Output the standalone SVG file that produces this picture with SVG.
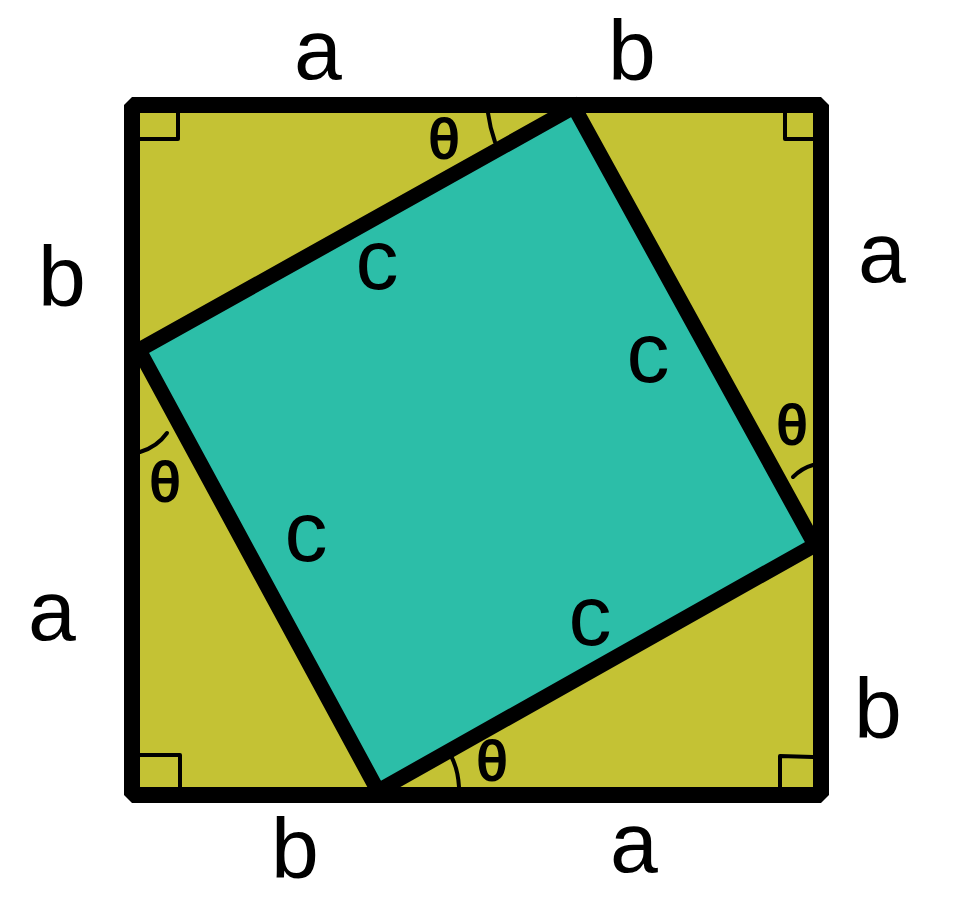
<svg xmlns="http://www.w3.org/2000/svg" width="954" height="900" viewBox="0 0 954 900">
  <style>
    .lbl { font-family: "Liberation Sans", Arial, sans-serif; font-size: 86px; fill: #000; text-anchor: middle; }
    .th { font-family: "Liberation Sans", Arial, sans-serif; font-size: 56px; fill: #000; stroke: #000; stroke-width: 2; text-anchor: middle; }
    .mark { fill: none; stroke: #000; stroke-width: 4; stroke-linecap: round; stroke-linejoin: round; }
  </style>
  <rect x="0" y="0" width="954" height="900" fill="#ffffff"/>
  <g id="outer-square">
    <rect x="132" y="105" width="689" height="690" fill="#c4c234" stroke="#000" stroke-width="16" stroke-linejoin="bevel"/>
  </g>
  <g id="inner-square">
    <polygon points="574,107 815,545 378,791 139,350" fill="#2cbea8" stroke="#000" stroke-width="15" stroke-linejoin="miter"/>
  </g>
  <g id="right-angle-marks">
    <path class="mark" d="M140 139 L178 139 L178 113"/>
    <path class="mark" d="M785 113 L785 139 L813 139"/>
    <path class="mark" d="M140 755 L180 755 L180 787"/>
    <path class="mark" d="M780 787 L780 756 L813 757"/>
  </g>
  <g id="angle-arcs">
    <path class="mark" d="M488 113 Q490 128 495 142"/>
    <path class="mark" d="M140 452 Q157 447 167 433"/>
    <path class="mark" d="M793 477 Q802 468 813 465"/>
    <path class="mark" d="M452 758 Q458 770 459 787"/>
  </g>
  <g id="side-labels">
    <text class="lbl" x="318" y="79">a</text>
    <text class="lbl" x="632" y="80">b</text>
    <text class="lbl" x="62" y="306">b</text>
    <text class="lbl" x="882" y="282">a</text>
    <text class="lbl" x="52" y="640">a</text>
    <text class="lbl" x="878" y="738">b</text>
    <text class="lbl" x="295" y="878">b</text>
    <text class="lbl" x="634" y="872">a</text>
  </g>
  <g id="hypotenuse-labels">
    <text class="lbl" x="377" y="289">c</text>
    <text class="lbl" x="648" y="382">c</text>
    <text class="lbl" x="306" y="561">c</text>
    <text class="lbl" x="590" y="645">c</text>
  </g>
  <g id="theta-labels">
    <text class="th" x="444" y="158">θ</text>
    <text class="th" x="165" y="501">θ</text>
    <text class="th" x="792" y="444">θ</text>
    <text class="th" x="492" y="780">θ</text>
  </g>
</svg>
